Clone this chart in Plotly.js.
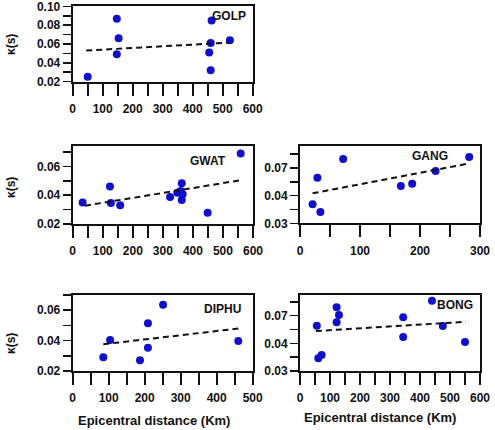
<!DOCTYPE html>
<html>
<head>
<meta charset="utf-8">
<script src="https://cdn.plot.ly/plotly-3.0.1.min.js"></script>
<style>
  html, body { margin: 0; padding: 0; background: #ffffff; }
  #chart { width: 495px; height: 430px; }
</style>
</head>
<body>
<div id="chart"></div>
<script>
// Kappa (s) against epicentral distance (km) for five stations,
// with the linear trend of each station drawn as a dashed line.

// GOLP
const golpDist  = [50, 147, 153, 147, 463, 460, 455, 460, 524];
const golpKappa = [0.025, 0.087, 0.066, 0.049, 0.085, 0.061, 0.051, 0.032, 0.064];
const golpFitDist  = [45, 520];
const golpFitKappa = [0.053, 0.0615];

// GWAT
const gwatDist  = [33, 124, 127, 158, 324, 348, 359, 363, 366, 363, 449, 559];
const gwatKappa = [0.035, 0.046, 0.0346, 0.033, 0.0388, 0.0418, 0.043, 0.0484, 0.0407, 0.0367, 0.0279, 0.069];
const gwatFitDist  = [41, 563];
const gwatFitKappa = [0.0327, 0.0506];

// GANG
const gangDist  = [21, 34, 29, 72, 168, 187, 226, 282];
const gangKappa = [0.0306, 0.0222, 0.0594, 0.0796, 0.0504, 0.0529, 0.0667, 0.0818];
const gangFitDist  = [21, 283];
const gangFitKappa = [0.0425, 0.075];

// DIPHU
const diphuDist  = [85, 104, 187, 209, 209, 251, 460];
const diphuKappa = [0.029, 0.0404, 0.027, 0.0514, 0.0353, 0.0636, 0.0397];
const diphuFitDist  = [85, 465];
const diphuFitKappa = [0.0376, 0.0481];

// BONG
const bongDist  = [56, 61, 72, 122, 130, 122, 344, 344, 440, 476, 550];
const bongKappa = [0.0591, 0.0238, 0.0273, 0.079, 0.0707, 0.0628, 0.0682, 0.0468, 0.0862, 0.0588, 0.0414];
const bongFitDist  = [53, 553];
const bongFitKappa = [0.0533, 0.0634];

// tick labels of the kappa axes
const golpKappaTicks  = [0.02, 0.04, 0.06, 0.08, 0.10];
const leftKappaTicks  = [0.02, 0.04, 0.06];
const rightKappaTickVals = [0.01, 0.04, 0.07];
const rightKappaTickText = ['0.03', '0.04', '0.07'];

const stations = [
  { name: 'GOLP',  d: golpDist,  k: golpKappa,  fd: golpFitDist,  fk: golpFitKappa,  tv: golpKappaTicks },
  { name: 'GWAT',  d: gwatDist,  k: gwatKappa,  fd: gwatFitDist,  fk: gwatFitKappa,  tv: leftKappaTicks },
  { name: 'GANG',  d: gangDist,  k: gangKappa,  fd: gangFitDist,  fk: gangFitKappa,  tv: rightKappaTickVals, tt: rightKappaTickText },
  { name: 'DIPHU', d: diphuDist, k: diphuKappa, fd: diphuFitDist, fk: diphuFitKappa, tv: leftKappaTicks },
  { name: 'BONG',  d: bongDist,  k: bongKappa,  fd: bongFitDist,  fk: bongFitKappa,  tv: rightKappaTickVals, tt: rightKappaTickText }
];

const W = 495, H = 430;
const FONT = 'Liberation Sans, Arial, sans-serif';
const BLUE = '#1010c8';
const INK = '#111111';

// panel frames in pixels: left, right, top, bottom
const frames = [
  { l: 72.7, r: 252.7, t: 6.2,  b: 81.5 },
  { l: 72.7, r: 253.0, t: 146,  b: 224 },
  { l: 300,  r: 480,   t: 146,  b: 223.3 },
  { l: 72.7, r: 252.7, t: 295,  b: 371 },
  { l: 300,  r: 480,   t: 295,  b: 371 }
];
const xRanges = [[0, 600], [0, 600], [0, 300], [0, 500], [0, 600]];
// the GOLP top sits a hair above 0.10 so that its 0.10 tick is kept
const yRanges = [[0.02, 0.1003], [0.02, 0.0742], [0.01, 0.0938], [0.02, 0.07], [0.01, 0.0924]];
const minorY  = [
  { tick0: 0.02, dtick: 0.01 },
  { tick0: 0.02, dtick: 0.01 },
  { tick0: 0.01, dtick: 0.015 },
  { tick0: 0.02, dtick: 0.01 },
  { tick0: 0.01, dtick: 0.015 }
];
const labelPos = [
  { x: 0.974, y: 0.866 },
  { x: 0.860, y: 0.810 },
  { x: 0.833, y: 0.870 },
  { x: 0.946, y: 0.816 },
  { x: 0.972, y: 0.868 }
];

const traces = [];
const layout = {
  width: W, height: H,
  margin: { l: 0, r: 0, t: 0, b: 0 },
  paper_bgcolor: '#ffffff',
  plot_bgcolor: '#ffffff',
  showlegend: false,
  font: { family: FONT, color: INK, size: 12, weight: 'bold' },
  annotations: []
};

stations.forEach((s, i) => {
  const n = i + 1;
  const xa = n === 1 ? 'x' : 'x' + n;
  const ya = n === 1 ? 'y' : 'y' + n;
  const f = frames[i];

  traces.push({
    type: 'scatter', mode: 'markers', x: s.d, y: s.k,
    xaxis: xa, yaxis: ya,
    marker: { color: BLUE, size: 8 },
    hoverinfo: 'skip'
  });
  traces.push({
    type: 'scatter', mode: 'lines', x: s.fd, y: s.fk,
    xaxis: xa, yaxis: ya,
    line: { color: INK, width: 2, dash: '6px,4px' },
    hoverinfo: 'skip'
  });

  const axisCommon = {
    showgrid: false, zeroline: false,
    showline: true, linecolor: INK, linewidth: 2, mirror: true,
    ticks: 'outside', tickcolor: INK, tickwidth: 1.6,
    tickfont: { family: FONT, size: 12, color: INK, weight: 'bold' },
    ticklabeloverflow: 'allow',
    fixedrange: true
  };

  const xKey = n === 1 ? 'xaxis' : 'xaxis' + n;
  const yKey = n === 1 ? 'yaxis' : 'yaxis' + n;

  layout[xKey] = Object.assign({}, axisCommon, {
    domain: [f.l / W, f.r / W],
    anchor: ya,
    range: xRanges[i],
    tickmode: 'linear', tick0: 0, dtick: 100,
    ticklen: 12,
    ticklabelstandoff: 3,
    minor: { tickmode: 'linear', tick0: 0, dtick: 50, ticks: 'outside', ticklen: 12, tickwidth: 1.6, tickcolor: INK }
  });

  layout[yKey] = Object.assign({}, axisCommon, {
    domain: [1 - f.b / H, 1 - f.t / H],
    anchor: xa,
    range: yRanges[i],
    ticklen: 8,
    tickmode: 'array',
    tickvals: s.tv,
    ticktext: s.tt || s.tv.map(v => v.toFixed(2)),
    minor: { tickmode: 'linear', tick0: minorY[i].tick0, dtick: minorY[i].dtick, ticks: 'outside', ticklen: 8, tickwidth: 1.6, tickcolor: INK }
  });

  layout.annotations.push({
    text: s.name, showarrow: false,
    xref: xa + ' domain', yref: ya + ' domain',
    x: labelPos[i].x, y: labelPos[i].y,
    xanchor: 'right', yanchor: 'middle',
    font: { family: FONT, size: 12, color: INK, weight: 'bold' }
  });
});

// kappa titles on the left column
[45, 188, 344].forEach(py => {
  layout.annotations.push({
    text: '\u03ba(s)', showarrow: false, textangle: -90,
    xref: 'paper', yref: 'paper', x: 11 / W, y: 1 - py / H,
    xanchor: 'center', yanchor: 'middle',
    font: { family: FONT, size: 12, color: INK, weight: 'bold' }
  });
});

// distance titles under the bottom row
[[154, 420], [380, 417]].forEach(([px, py]) => {
  layout.annotations.push({
    text: 'Epicentral distance (Km)', showarrow: false,
    xref: 'paper', yref: 'paper', x: px / W, y: 1 - py / H,
    xanchor: 'center', yanchor: 'middle',
    font: { family: FONT, size: 13, color: INK, weight: 'bold' }
  });
});

Plotly.newPlot('chart', traces, layout, { displayModeBar: false, staticPlot: true });
</script>
</body>
</html>
